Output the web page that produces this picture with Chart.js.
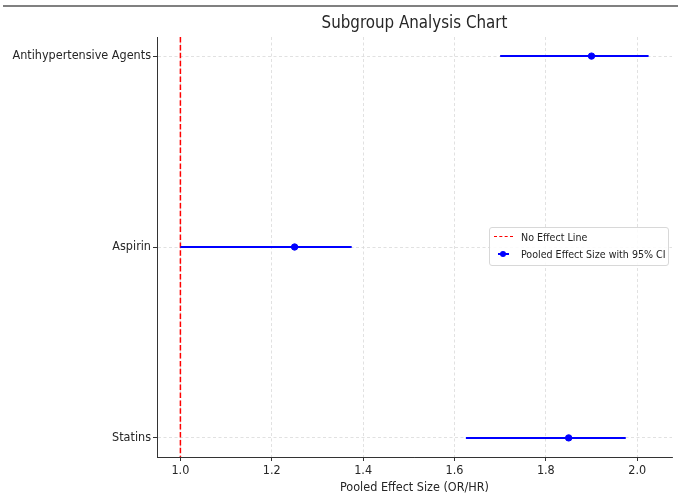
<!DOCTYPE html>
<html>
<head>
<meta charset="utf-8">
<script src="https://cdn.jsdelivr.net/npm/chart.js@4.4.0/dist/chart.umd.min.js"></script>
<style>
  body { margin: 0; background: #fff; }
  #wrap { position: relative; width: 678px; height: 493px; }
  #topline { position: absolute; left: 3px; right: 0; top: 5px; height: 1.5px; background: #808080; }
  #legend { position: absolute; left: 489px; top: 227px; width: 178px; height: 37px;
            border: 1px solid #d8d8d8; border-radius: 3px; background: rgba(255,255,255,0.85);
            font: 10.6px 'DejaVu Sans Condensed', 'DejaVu Sans', sans-serif; color: #222; }
  .row { position: absolute; left: 0; height: 14px; line-height: 14px; }
  .sym { position: absolute; left: 4px; top: 6px; width: 19px; height: 2px; }
  .lbl { position: absolute; left: 31px; top: 0; white-space: nowrap; }
</style>
</head>
<body>
<div id="wrap">
  <canvas id="chart" width="678" height="493"></canvas>
  <div id="topline"></div>
  <div id="legend"></div>
</div>
<script>
const categories = ['Antihypertensive Agents', 'Aspirin', 'Statins'];
const effects = [1.9, 1.25, 1.85];
const ciLow = [1.7, 1.0, 1.625];
const ciHigh = [2.025, 1.375, 1.975];
const noEffect = 1.0;
const xTicks = [1.0, 1.2, 1.4, 1.6, 1.8, 2.0];

const FONT = "'DejaVu Sans Condensed', 'DejaVu Sans', sans-serif";
const BLUE = '#0000ff';

// matplotlib style 5% margins
const lo = Math.min(...ciLow, noEffect), hi = Math.max(...ciHigh, noEffect);
const xMin = lo - 0.05 * (hi - lo), xMax = hi + 0.05 * (hi - lo);
const yMin = -0.05 * (categories.length - 1), yMax = (categories.length - 1) * 1.05;

const datasets = [];
categories.forEach((c, i) => {
  datasets.push({
    type: 'line',
    label: 'ci-' + c,
    data: [{x: ciLow[i], y: i}, {x: ciHigh[i], y: i}],
    borderColor: BLUE,
    borderWidth: 2,
    pointRadius: 0,
    order: 1
  });
});
datasets.push({
  type: 'scatter',
  label: 'Pooled Effect Size with 95% CI',
  data: effects.map((v, i) => ({x: v, y: i})),
  backgroundColor: BLUE,
  borderColor: BLUE,
  pointRadius: 3.2,
  order: 0
});
datasets.push({
  type: 'line',
  label: 'No Effect Line',
  data: [{x: noEffect, y: yMin}, {x: noEffect, y: yMax}],
  borderColor: '#ff0000',
  borderWidth: 1.5,
  borderDash: [5.5, 2.4],
  pointRadius: 0,
  order: 2
});

const titlePlugin = {
  id: 'axTitle',
  afterDraw(chart) {
    const {ctx, chartArea} = chart;
    ctx.save();
    ctx.fillStyle = '#262626';
    ctx.font = '16.8px ' + FONT;
    ctx.textAlign = 'center';
    ctx.textBaseline = 'alphabetic';
    ctx.fillText('Subgroup Analysis Chart', (chartArea.left + chartArea.right) / 2, 28);
    ctx.restore();
  }
};

new Chart(document.getElementById('chart'), {
  type: 'scatter',
  data: { datasets: datasets },
  options: {
    responsive: false,
    animation: false,
    layout: { padding: { top: 37, right: 6, left: 0, bottom: 0 } },
    plugins: { legend: { display: false }, tooltip: { enabled: false } },
    scales: {
      x: {
        type: 'linear',
        min: xMin,
        max: xMax,
        afterBuildTicks: s => { s.ticks = xTicks.map(v => ({value: v})); },
        afterFit: s => { s.height = 36; },
        ticks: {
          callback: v => v.toFixed(1),
          color: '#262626',
          font: { family: FONT, size: 12.5 },
          padding: 2,
          maxRotation: 0,
          autoSkip: false
        },
        grid: { color: '#d9d9d9', lineWidth: 0.8, tickColor: '#333', tickLength: 4, tickWidth: 1 },
        border: { display: true, color: '#333', width: 1, dash: [3, 2.5] },
        title: {
          display: true,
          text: 'Pooled Effect Size (OR/HR)',
          color: '#262626',
          font: { family: FONT, size: 12.5 },
          padding: { top: 0, bottom: -2 }
        }
      },
      y: {
        type: 'linear',
        min: yMin,
        max: yMax,
        reverse: true,
        afterBuildTicks: s => { s.ticks = categories.map((c, i) => ({value: i})); },
        afterFit: s => { s.width = 157; },
        ticks: {
          callback: v => categories[v],
          color: '#262626',
          font: { family: FONT, size: 12.5 },
          padding: 2,
          autoSkip: false
        },
        grid: { color: '#d9d9d9', lineWidth: 0.8, tickColor: '#333', tickLength: 4, tickWidth: 1 },
        border: { display: true, color: '#333', width: 1, dash: [3, 2.5] }
      }
    }
  },
  plugins: [titlePlugin]
});

// legend (matplotlib-like box inside the axes)
const legend = document.getElementById('legend');
const items = [
  { label: 'No Effect Line', sym: '<div class="sym" style="border-top:1.5px dashed #ff0000;height:0;top:6px"></div>' },
  { label: 'Pooled Effect Size with 95% CI', sym: '<div class="sym" style="left:8px;width:11px;top:6px;background:' + BLUE + '"></div>' +
      '<div class="sym" style="left:10px;width:6px;height:6px;top:4px;border-radius:50%;background:' + BLUE + '"></div>' }
];
items.forEach((it, k) => {
  const row = document.createElement('div');
  row.className = 'row';
  row.style.top = (2 + k * 17) + 'px';
  row.style.width = '100%';
  row.innerHTML = it.sym + '<span class="lbl">' + it.label + '</span>';
  legend.appendChild(row);
});
</script>
</body>
</html>
